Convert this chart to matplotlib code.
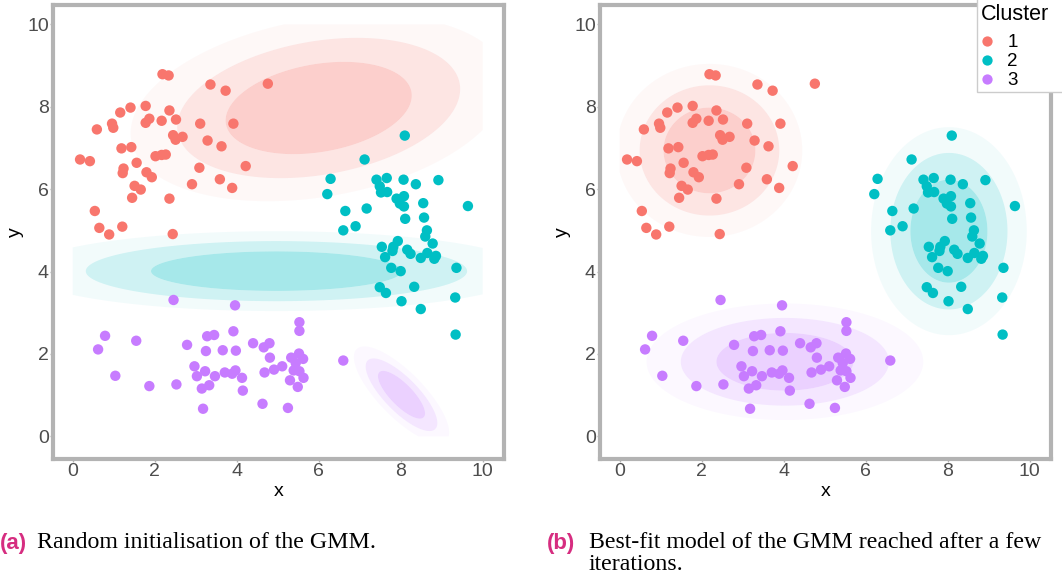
import numpy as np
import matplotlib
matplotlib.use("Agg")
import matplotlib.pyplot as plt
from matplotlib.colors import to_rgba
from matplotlib.lines import Line2D
from matplotlib.patches import Rectangle

# observed points (same data in both panels)
red_x = [2.19, 2.34, 3.36, 3.73, 4.76, 1.41, 1.78, 1.16, 2.36, 0.96, 0.99, 0.59, 1.87, 1.78, 2.17,
         2.52, 3.11, 3.92, 2.45, 2.51, 2.68, 3.29, 3.63, 1.19, 1.43, 2.02, 2.17, 2.27, 0.18, 0.42,
         1.56, 4.22, 3.09, 1.24, 1.22, 1.80, 1.93, 3.59, 2.91, 1.51, 1.66, 3.89, 1.45, 2.36, 0.54,
         0.65, 0.89, 1.21, 2.44]
red_y = [8.79, 8.76, 8.54, 8.39, 8.56, 7.98, 8.02, 7.86, 7.91, 7.59, 7.49, 7.45, 7.71, 7.61, 7.66,
         7.69, 7.59, 7.59, 7.31, 7.20, 7.27, 7.18, 7.04, 6.99, 7.02, 6.80, 6.83, 6.84, 6.72, 6.68,
         6.64, 6.56, 6.52, 6.50, 6.39, 6.41, 6.29, 6.24, 6.12, 6.08, 5.99, 6.03, 5.79, 5.77, 5.47,
         5.06, 4.90, 5.09, 4.91]

teal_x = [8.10, 7.12, 6.29, 6.21, 8.92, 7.41, 7.66, 7.49, 7.52, 7.67, 8.07, 8.37, 7.90, 8.08, 7.98,
          8.08, 8.55, 9.64, 6.65, 7.17, 8.11, 8.57, 6.90, 6.60, 8.64, 8.60, 8.78, 7.93, 7.54, 7.62,
          7.80, 7.82, 8.16, 8.24, 8.49, 8.65, 8.82, 8.86, 7.77, 8.00, 9.36, 7.49, 7.64, 8.33, 8.02,
          9.33, 8.49, 9.34]
teal_y = [7.30, 6.72, 6.25, 5.88, 6.22, 6.23, 6.27, 6.07, 5.92, 5.93, 6.23, 6.12, 5.77, 5.83, 5.65,
          5.58, 5.66, 5.59, 5.47, 5.53, 5.28, 5.31, 5.10, 5.00, 5.00, 4.85, 4.68, 4.74, 4.60, 4.35,
          4.50, 4.60, 4.53, 4.43, 4.33, 4.45, 4.31, 4.38, 4.09, 4.01, 4.09, 3.62, 3.48, 3.63, 3.28,
          3.37, 3.09, 2.47]

purple_x = [2.46, 3.96, 5.53, 5.53, 0.79, 0.62, 1.55, 3.28, 3.45, 3.92, 2.79, 3.25, 3.66, 3.98, 4.40,
            4.66, 4.80, 4.81, 5.33, 5.52, 5.62, 5.44, 5.39, 5.53, 6.60, 2.97, 3.23, 3.03, 3.47, 3.71,
            3.97, 3.89, 4.13, 4.68, 4.91, 5.11, 5.63, 5.30, 5.49, 1.04, 1.87, 2.53, 3.15, 3.33, 4.15,
            4.63, 3.18, 5.25]
purple_y = [3.31, 3.18, 2.77, 2.56, 2.44, 2.11, 2.32, 2.43, 2.46, 2.55, 2.22, 2.07, 2.09, 2.08, 2.26,
            2.16, 2.26, 1.91, 1.91, 2.01, 1.88, 1.78, 1.60, 1.58, 1.84, 1.70, 1.58, 1.46, 1.46, 1.55,
            1.60, 1.52, 1.42, 1.55, 1.62, 1.70, 1.42, 1.36, 1.20, 1.47, 1.22, 1.26, 1.16, 1.24, 1.11,
            0.79, 0.67, 0.69]

cluster_labels = ["1", "2", "3"]
cluster_colors = ["#F8766D", "#00BFC4", "#C77CFF"]

# GMM components: mean x, mean y, sd x, sd y, correlation
init_mx = [6.00, 4.97, 8.02]
init_my = [7.97, 4.01, 1.01]
init_sx = [2.27, 3.06, 0.575]
init_sy = [1.12, 0.48, 0.58]
init_rho = [0.27, 0.0, -0.78]

fit_mx = [2.19, 8.03, 4.03]
fit_my = [6.94, 4.98, 1.81]
fit_sx = [1.12, 0.94, 1.67]
fit_sy = [1.04, 1.25, 0.70]
fit_rho = [0.0, 0.0, 0.0]

# contour radii (in sd units) and band opacities, inner -> outer
radii = [1.0, 1.52, 2.02]
band_alpha = [0.35, 0.19, 0.05]

plt.rcParams["font.family"] = ["Liberation Sans", "DejaVu Sans"]

W, H = 1062, 577
fig = plt.figure(figsize=(W / 100, H / 100), dpi=100)

gx = np.linspace(0, 10, 301)
GX, GY = np.meshgrid(gx, gx)


def draw_panel(ax, mx, my, sx, sy, rho):
    for k in range(3):
        dx = (GX - mx[k]) / sx[k]
        dy = (GY - my[k]) / sy[k]
        d2 = (dx ** 2 - 2 * rho[k] * dx * dy + dy ** 2) / (1 - rho[k] ** 2)
        levels = [0] + [r ** 2 for r in radii]
        cols = [to_rgba(cluster_colors[k], a) for a in band_alpha]
        ax.contourf(GX, GY, d2, levels=levels, colors=cols, antialiased=True, zorder=1)
    for xs, ys, c in [(red_x, red_y, cluster_colors[0]),
                      (teal_x, teal_y, cluster_colors[1]),
                      (purple_x, purple_y, cluster_colors[2])]:
        ax.scatter(xs, ys, s=56, color=c, edgecolors="none", zorder=3)
    ax.set_xlim(-0.48, 10.52)
    ax.set_ylim(-0.55, 10.47)
    ax.set_xticks(range(0, 11, 2))
    ax.set_yticks(range(0, 11, 2))
    for sp in ax.spines.values():
        sp.set_color("#B3B3B3")
        sp.set_linewidth(3)
    ax.tick_params(colors="#B3B3B3", labelcolor="#4D4D4D", labelsize=14, length=2.5, width=1,
                   pad=0.5)
    ax.set_xlabel("x", fontsize=14, labelpad=2)
    ax.set_ylabel("y", fontsize=14, labelpad=2)


ax_w = 451 / W
ax_h = 454 / H
ax1 = fig.add_axes([53 / W, 118 / H, ax_w, ax_h])
ax2 = fig.add_axes([600 / W, 118 / H, ax_w, ax_h])
draw_panel(ax1, init_mx, init_my, init_sx, init_sy, init_rho)
draw_panel(ax2, fit_mx, fit_my, fit_sx, fit_sy, fit_rho)

# legend box with title, covering the top-right corner of panel b
fig.add_artist(Rectangle((977 / W, 1 - 92 / H), 100 / W, 100 / H, transform=fig.transFigure,
                         facecolor="white", edgecolor="#CCCCCC", linewidth=1, zorder=4))
fig.text(981 / W, 1 - 20.5 / H, "Cluster", fontsize=15.5, va="baseline", zorder=6)
handles = [Line2D([], [], marker="o", linestyle="none", markersize=7.4,
                  markerfacecolor=c, markeredgecolor="none") for c in cluster_colors]
fig.legend(handles, cluster_labels, loc="upper left", bbox_to_anchor=(981 / W, 1 - 34 / H),
           borderaxespad=0, borderpad=0, frameon=False, fontsize=13.5,
           handlelength=0.6, handletextpad=0.8, labelspacing=0.1)

# captions
pink = "#D62D80"
cap_y = 1 - 543 / H
fig.text(0 / W, cap_y, "(a)", color=pink, fontsize=16, fontweight="bold", va="center")
fig.text(37 / W, cap_y, "Random initialisation of the GMM.", family="Liberation Serif",
         fontsize=17.2, va="center")
fig.text(547 / W, cap_y, "(b)", color=pink, fontsize=16, fontweight="bold", va="center")
fig.text(589 / W, cap_y, "Best-fit model of the GMM reached after a few",
         family="Liberation Serif", fontsize=17.2, va="center")
fig.text(589 / W, 1 - 564 / H, "iterations.", family="Liberation Serif", fontsize=17.2,
         va="center")

fig.savefig("out.png", dpi=100)
